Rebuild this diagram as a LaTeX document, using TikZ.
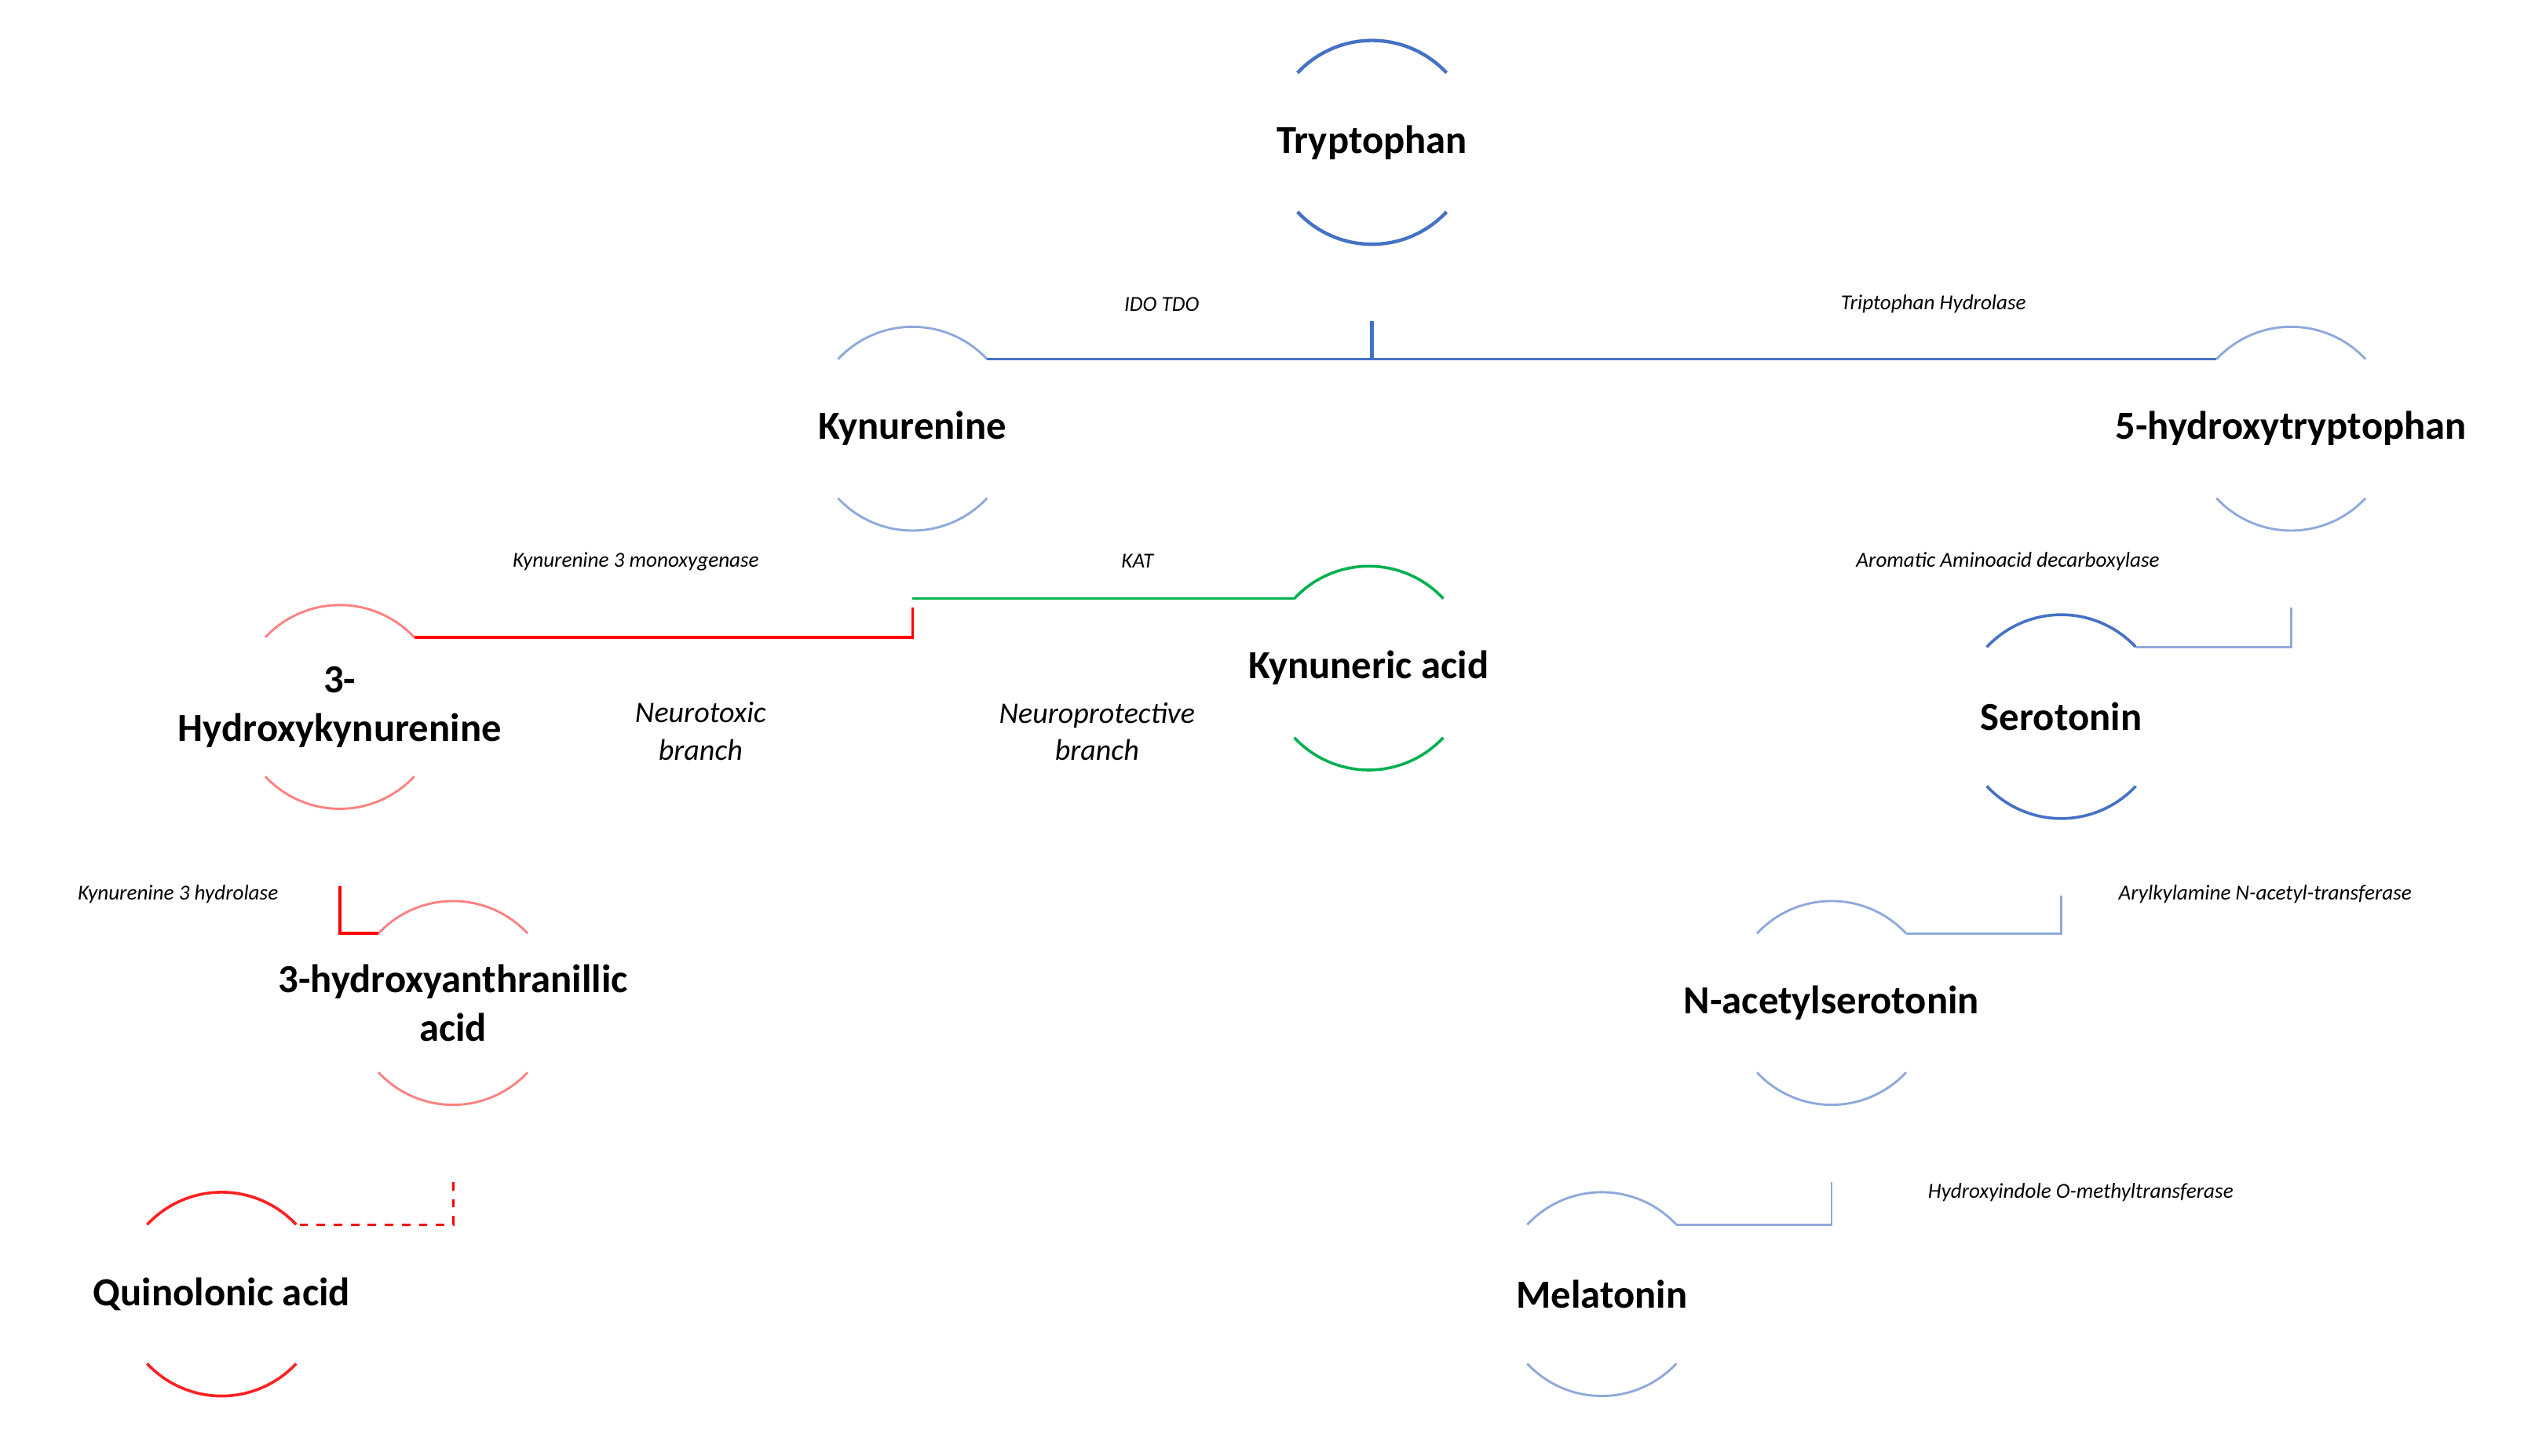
\documentclass[tikz,border=0pt]{standalone}
\usepackage{fontspec}
\setmainfont{Carlito}
\definecolor{dblue}{HTML}{4472C4}
\definecolor{lblue}{HTML}{8EA9DB}
\definecolor{lred}{HTML}{FF8080}
\definecolor{dred}{HTML}{FF2020}
\definecolor{dgreen}{HTML}{00B050}
\begin{document}
\begin{tikzpicture}[x=0.02cm,y=0.02cm,
  met/.style={align=center,font=\fontsize{14}{17}\selectfont\bfseries},
  enz/.style={font=\fontsize{7.5}{9}\selectfont\itshape},
  br/.style={align=center,font=\fontsize{10.5}{13}\selectfont\itshape}]
  \useasboundingbox (0,0) rectangle (1560,-900);

  \node (trp) at (848,-88) [met] {Tryptophan};
  \node (kyn) at (564,-265) [met] {Kynurenine};
  \node (htp) at (1416,-265) [met] {5-hydroxytryptophan};
  \node (hk) at (210,-437) [met] {3-\\Hydroxykynurenine};
  \node (kyna) at (846,-413) [met] {Kynuneric acid};
  \node (ser) at (1274,-443) [met] {Serotonin};
  \node (haa) at (280,-620) [met] {3-hydroxyanthranillic\\acid};
  \node (nas) at (1132,-620) [met] {N-acetylserotonin};
  \node (qa) at (137,-800) [met] {Quinolonic acid};
  \node (mel) at (990,-800) [met] {Melatonin};

  % arcs round each metabolite
  \foreach \n/\c/\w in {trp/dblue/1.2pt, kyn/lblue/0.8pt, htp/lblue/0.8pt,
      hk/lred/0.8pt, kyna/dgreen/1pt, ser/dblue/1pt, haa/lred/0.8pt,
      nas/lblue/0.8pt, qa/dred/1pt, mel/lblue/0.8pt} {
    \draw[\c,line width=\w] ([shift={(43:63)}]\n.center) arc[start angle=43,end angle=137,radius=1.26cm];
    \draw[\c,line width=\w] ([shift={(223:63)}]\n.center) arc[start angle=223,end angle=317,radius=1.26cm];
  }

  \coordinate (trpb) at ([yshift=-63]trp.center);
  \coordinate (kynt) at ([shift={(43:63)}]kyn.center);
  \coordinate (htpt) at ([shift={(137:63)}]htp.center);
  \coordinate (kynb) at ([yshift=-63]kyn.center);
  \coordinate (hkt) at ([shift={(43:63)}]hk.center);
  \coordinate (kynat) at ([shift={(137:63)}]kyna.center);
  \coordinate (htpb) at ([yshift=-63]htp.center);
  \coordinate (sert) at ([shift={(43:63)}]ser.center);
  \coordinate (serb) at ([yshift=-63]ser.center);
  \coordinate (nast) at ([shift={(43:63)}]nas.center);
  \coordinate (nasb) at ([yshift=-63]nas.center);
  \coordinate (melt) at ([shift={(43:63)}]mel.center);
  \coordinate (hkb) at ([yshift=-63]hk.center);
  \coordinate (haat) at ([shift={(137:63)}]haa.center);
  \coordinate (haab) at ([yshift=-63]haa.center);
  \coordinate (qat) at ([shift={(43:63)}]qa.center);

  \draw[dblue,line width=1.3pt] (trpb) -- (trpb |- kynt);
  \draw[dblue,line width=0.8pt] (kynt) -- (htpt);
  \draw[red,line width=1pt] (kynb) |- (hkt);
  \draw[dgreen,line width=0.9pt] (kynb |- kynat) -- (kynat);
  \draw[lblue,line width=0.8pt] (htpb) |- (sert);
  \draw[lblue,line width=0.8pt] (serb) |- (nast);
  \draw[lblue,line width=0.8pt] (nasb) |- (melt);
  \draw[red,line width=1pt] (hkb) |- (haat);
  \draw[red,line width=0.8pt,dashed] (haab) |- (qat);

  \node (e1) at (718,-188) [enz] {IDO TDO};
  \node (e2) at (1195,-188) [enz] {Triptophan Hydrolase};
  \node (e3) at (393,-347) [enz] {Kynurenine 3 monoxygenase};
  \node (e4) at (703,-347) [enz] {KAT};
  \node (e5) at (1241,-347) [enz] {Aromatic Aminoacid decarboxylase};
  \node (e6) at (110,-553) [enz] {Kynurenine 3 hydrolase};
  \node (e7) at (1400,-553) [enz] {Arylkylamine N-acetyl-transferase};
  \node (e8) at (1286,-737) [enz] {Hydroxyindole O-methyltransferase};
  \node (b1) at (433,-452) [br] {Neurotoxic\\branch};
  \node (b2) at (678,-452) [br] {Neuroprotective\\branch};
\end{tikzpicture}
\end{document}
